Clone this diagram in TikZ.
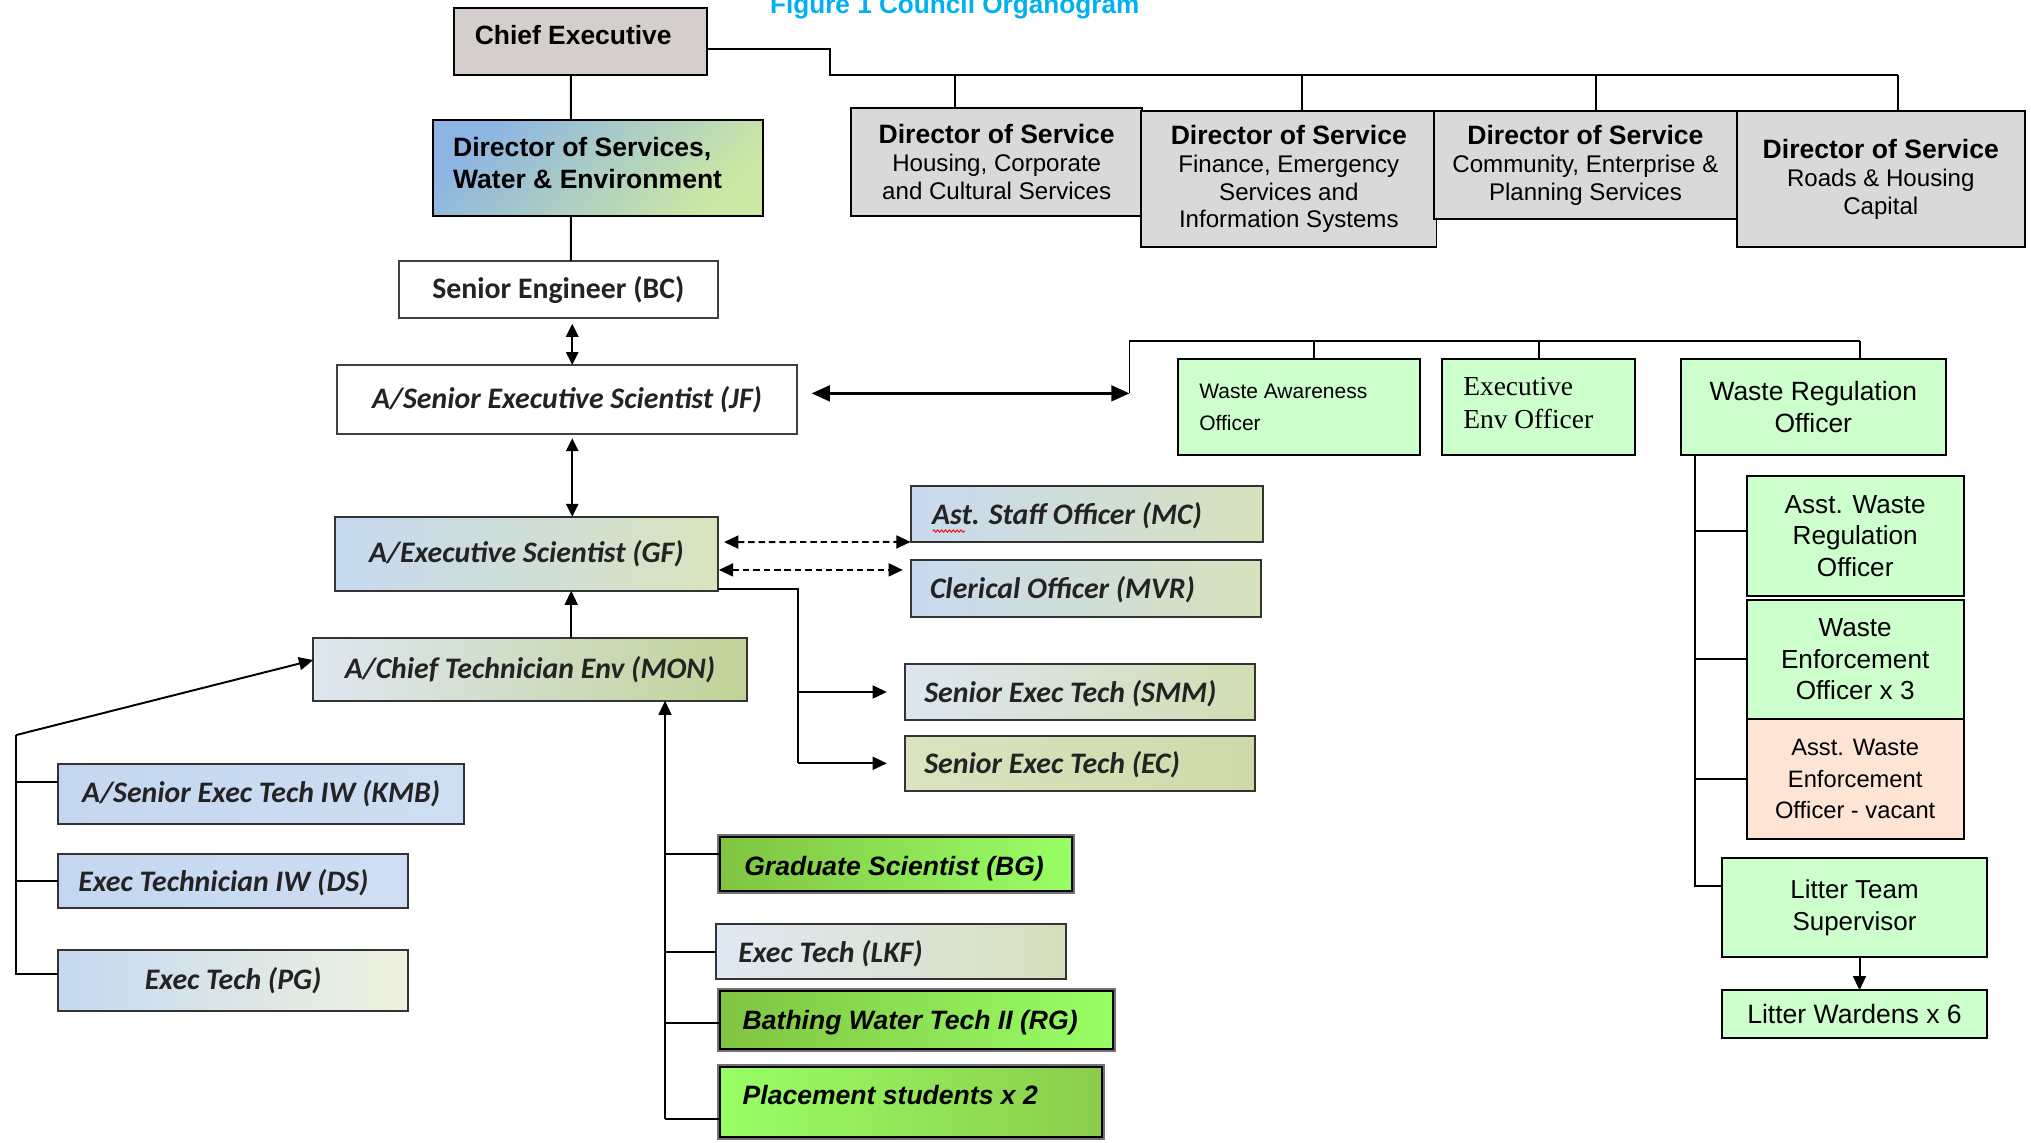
\documentclass[tikz,border=0pt]{standalone}
\usepackage{fontspec}
\setmainfont{Liberation Sans}
\newfontfamily\calfont{Carlito}
\newfontfamily\tmsfont{Liberation Serif}
\usetikzlibrary{arrows.meta,decorations.pathmorphing}
\definecolor{titleblue}{RGB}{0,176,240}
\definecolor{chiefgray}{RGB}{212,207,205}
\definecolor{dirgray}{RGB}{217,217,217}
\definecolor{dweblue}{RGB}{141,180,226}
\definecolor{dwegreen}{RGB}{204,232,164}
\definecolor{mint}{RGB}{204,255,204}
\definecolor{peach}{RGB}{253,228,213}
\definecolor{gfL}{RGB}{198,217,240}
\definecolor{gfR}{RGB}{216,228,190}
\definecolor{monL}{RGB}{222,231,242}
\definecolor{monR}{RGB}{192,211,150}
\definecolor{mcL}{RGB}{200,218,240}
\definecolor{mcR}{RGB}{214,226,188}
\definecolor{smmL}{RGB}{220,230,242}
\definecolor{smmR}{RGB}{210,222,178}
\definecolor{ecL}{RGB}{218,227,192}
\definecolor{ecR}{RGB}{206,218,170}
\definecolor{kmbL}{RGB}{196,215,240}
\definecolor{kmbR}{RGB}{206,222,242}
\definecolor{pgL}{RGB}{198,217,241}
\definecolor{pgR}{RGB}{238,242,222}
\definecolor{lkfL}{RGB}{224,232,245}
\definecolor{lkfR}{RGB}{214,224,188}
\definecolor{gdark}{RGB}{128,196,66}
\definecolor{gbright}{RGB}{153,255,102}
\definecolor{gdarkP}{RGB}{140,205,75}
\definecolor{txt}{RGB}{35,35,35}
\begin{document}
\begin{tikzpicture}[x=1pt,y=-1pt,
  bx/.style={rectangle, draw=black, line width=1.5pt, inner sep=0pt, outer sep=0pt, align=center},
  calbox/.style={bx, draw=black!80, text=txt, font=\calfont\bfseries\itshape\fontsize{23}{27}\selectfont},
  dirbox/.style={bx, fill=dirgray, font=\fontsize{18.6}{21.5}\selectfont},
  mintbox/.style={bx, fill=mint, font=\fontsize{20.2}{24.5}\selectfont},
  greenbox/.style={bx, preaction={draw=black!55, line width=4.5pt}},
  lbl/.style={inner sep=0pt, outer sep=0pt},
  callbl/.style={lbl, anchor=mid west, text=txt, font=\calfont\bfseries\itshape\fontsize{23}{27}\selectfont},
  grlbl/.style={lbl, anchor=mid west, font=\bfseries\itshape\fontsize{20.5}{24}\selectfont},
  lnk/.style={draw=black, line width=1.5pt},
  arr/.style={lnk, -{Triangle[length=11pt,width=10pt]}},
  arrs/.style={lnk, {Triangle[length=10pt,width=9.5pt]}-{Triangle[length=10pt,width=9.5pt]}},
  arrbig/.style={draw=black, line width=2.2pt, {Triangle[length=14pt,width=12pt]}-{Triangle[length=14pt,width=12pt]}},
  dsharr/.style={lnk, dash pattern=on 5pt off 3pt, {Triangle[length=11pt,width=10pt]}-{Triangle[length=11pt,width=10pt]}},
  spell/.style={draw=red, line width=0.7pt, decorate, decoration={snake, amplitude=0.9pt, segment length=3pt}}
]
\useasboundingbox (0,0) rectangle (1568,882);
\clip (0,0) rectangle (1568,882);

% title
\node[lbl, anchor=base west, text=titleblue, font=\bfseries\fontsize{20.2}{24}\selectfont] (title) at (594.5,10.3) {Figure 1 Council Organogram};

% top level
\node[bx, fill=chiefgray, minimum width=195.5pt, minimum height=51.5pt] (chief) at (448.25,32.15) {};
\node[lbl, anchor=base west, font=\bfseries\fontsize{20.4}{24}\selectfont] (chieft) at (366.6,34.7) {Chief Executive};

\node[bx, top color=dweblue, bottom color=dwegreen, shading angle=45, minimum width=255.3pt, minimum height=74.2pt] (dwe) at (461.65,129.7) {};
\node[lbl, anchor=base west, font=\bfseries\fontsize{20.5}{24}\selectfont] (dwet1) at (349.8,121) {Director of Services,};
\node[lbl, anchor=base west, font=\bfseries\fontsize{20.5}{24}\selectfont] (dwet2) at (349.8,145.4) {Water \& Environment};

\node[dirbox, minimum width=225pt, minimum height=83.2pt] (housing) at (769.5,125.2)
  {{\bfseries\fontsize{20.5}{21.5}\selectfont Director of Service}\\Housing, Corporate\\and Cultural Services};
\node[dirbox, minimum width=228pt, minimum height=104.5pt] (finance) at (995,138.25)
  {{\bfseries\fontsize{20.5}{21.5}\selectfont Director of Service}\\Finance, Emergency\\Services and\\Information Systems};
\node[dirbox, minimum width=234pt, minimum height=83pt] (community) at (1224,127.5)
  {{\bfseries\fontsize{20.5}{21.5}\selectfont Director of Service}\\Community, Enterprise \&\\Planning Services};
\node[dirbox, minimum width=222pt, minimum height=104.5pt] (roads) at (1452,138.25)
  {{\bfseries\fontsize{20.5}{21.5}\selectfont Director of Service}\\Roads \& Housing\\Capital};

% left column
\node[calbox, fill=white, draw=black!75, font=\calfont\bfseries\fontsize{23}{27}\selectfont, minimum width=246pt, minimum height=44.2pt] (se) at (431,223.6) {Senior Engineer (BC)};
\node[calbox, fill=white, draw=black!75, minimum width=355.6pt, minimum height=53.5pt] (jf) at (437.8,308.55) {A/Senior Executive Scientist (JF)};
\node[calbox, left color=gfL, right color=gfR, minimum width=295.3pt, minimum height=57pt] (gf) at (406.35,427.5) {A/Executive Scientist (GF)};
\node[calbox, left color=monL, right color=monR, minimum width=334.8pt, minimum height=48.2pt] (mon) at (409.2,516.9) {A/Chief Technician Env (MON)};

\node[calbox, left color=mcL, right color=mcR, minimum width=271.8pt, minimum height=43.4pt] (mc) at (838.9,396.7) {};
\node[callbl] (mct) at (719.6,402.3) {Ast. Staff Officer (MC)};
\coordinate (sp1) at (720,410);
\coordinate (sp2) at (745,410);
\draw[spell] (sp1) -- (sp2);
\node[calbox, left color=mcL, right color=mcR, minimum width=270.3pt, minimum height=43.7pt] (mvr) at (838.15,454.15) {};
\node[callbl] (mvrt) at (718,459.7) {Clerical Officer (MVR)};
\node[calbox, left color=smmL, right color=smmR, minimum width=269.9pt, minimum height=43.3pt] (smm) at (833.65,534.25) {};
\node[callbl] (smmt) at (713.6,539.8) {Senior Exec Tech (SMM)};
\node[calbox, left color=ecL, right color=ecR, minimum width=269.9pt, minimum height=42.2pt] (ec) at (833.65,589.3) {};
\node[callbl] (ect) at (713.6,594.9) {Senior Exec Tech (EC)};

\node[calbox, left color=kmbL, right color=kmbR, minimum width=313.2pt, minimum height=46.3pt] (kmb) at (201.6,612.95) {A/Senior Exec Tech IW (KMB)};
\node[calbox, left color=kmbL, right color=kmbR, minimum width=270pt, minimum height=41.7pt] (ds) at (180,680.45) {};
\node[callbl] (dst) at (60.5,686) {Exec Technician IW (DS)};
\node[calbox, left color=pgL, right color=pgR, minimum width=270pt, minimum height=46.9pt] (pg) at (180,756.85) {Exec Tech (PG)};

\node[greenbox, left color=gdark, right color=gbright, minimum width=271.5pt, minimum height=41.6pt] (grad) at (691.65,666.8) {};
\node[grlbl] (gradt) at (574.6,672.9) {Graduate Scientist (BG)};
\node[calbox, left color=lkfL, right color=lkfR, minimum width=270.2pt, minimum height=42.2pt] (lkf) at (687.9,734.7) {};
\node[callbl] (lkft) at (570,740.3) {Exec Tech (LKF)};
\node[greenbox, left color=gdark, right color=gbright, minimum width=303.5pt, minimum height=45.2pt] (bath) at (707.75,787.4) {};
\node[grlbl] (batht) at (573.4,791.9) {Bathing Water Tech II (RG)};
\node[greenbox, left color=gbright, right color=gdarkP, minimum width=294.5pt, minimum height=53.6pt] (place) at (703.25,850.8) {};
\node[grlbl] (placet) at (573.4,850) {Placement students x 2};

% right column
\node[bx, fill=mint, minimum width=186.4pt, minimum height=74.6pt] (wa) at (1002.8,314.3) {};
\node[lbl, anchor=base west, font=\fontsize{16.2}{20}\selectfont] (wat1) at (925.9,307.5) {Waste Awareness};
\node[lbl, anchor=base west, font=\fontsize{16.2}{20}\selectfont] (wat2) at (925.9,332) {Officer};
\node[bx, fill=mint, minimum width=149.6pt, minimum height=74.6pt] (eeo) at (1187.8,314.3) {};
\node[lbl, anchor=base west, font=\tmsfont\fontsize{21.2}{25}\selectfont] (eeot1) at (1129.7,305.7) {Executive};
\node[lbl, anchor=base west, font=\tmsfont\fontsize{21.2}{25}\selectfont] (eeot2) at (1129.7,330.7) {Env Officer};
\node[mintbox, font=\fontsize{20.4}{25}\selectfont, minimum width=204.3pt, minimum height=74.6pt] (wro) at (1399.95,314.3) {Waste Regulation\\Officer};
\node[mintbox, minimum width=167.5pt, minimum height=92.9pt] (awro) at (1432.25,413.75) {Asst. Waste\\Regulation\\Officer};
\node[mintbox, minimum width=167.5pt, minimum height=92pt] (weo) at (1432.25,509) {Waste\\Enforcement\\Officer x 3};
\node[mintbox, fill=peach, font=\fontsize{18.3}{24.5}\selectfont, minimum width=167.5pt, minimum height=93pt] (aweo) at (1432.25,601.5) {Asst. Waste\\Enforcement\\Officer - vacant};
\node[mintbox, font=\fontsize{20}{24.5}\selectfont, minimum width=204.5pt, minimum height=76.5pt] (lts) at (1431.75,700.75) {Litter Team\\Supervisor};
\node[mintbox, font=\fontsize{20.5}{24}\selectfont, minimum width=204.5pt, minimum height=37pt] (lw) at (1431.75,783) {Litter Wardens x 6};

% connector coordinates
\coordinate (cbend) at (640.8,57.9);
\coordinate (cbus) at (1465,57.9);
\coordinate (wain) at (872,303.7);
\coordinate (bus1) at (872,263.3);
\coordinate (bus2) at (1436,263.3);
\coordinate (gft) at (615.8,455);
\coordinate (mv) at (513.4,864);
\coordinate (lc) at (12.4,567.5);
\coordinate (rtr) at (1308.6,684.3);

% top connectors
\draw[lnk] ([yshift=-5.65pt]chief.east) -| (cbend) -- (cbus);
\draw[lnk] ([xshift=-32.5pt]housing.north) |- (cbus);
\draw[lnk] ([xshift=10pt]finance.north) |- (cbus);
\draw[lnk] ([xshift=8pt]community.north) |- (cbus);
\draw[lnk] ([xshift=13pt]roads.north) -- (cbus);
\draw[lnk] ([xshift=-7.45pt]chief.south) -- ([xshift=-20.85pt]dwe.north);
\draw[lnk] ([xshift=-20.85pt]dwe.south) -- ([xshift=9.8pt]se.north);

% vertical chain
\draw[arrs] ([xshift=10.8pt,yshift=-4.3pt]se.south) -- ([xshift=4pt]jf.north);
\draw[arrs] ([xshift=4pt,yshift=-3pt]jf.south) -- ([xshift=35.45pt]gf.north);
\draw[arr] ([xshift=31.8pt]mon.north) -- ([xshift=34.65pt]gf.south);

% JF to waste team
\draw[arrbig] ([xshift=11pt,yshift=4.85pt]jf.east) -- (wain);
\draw[lnk] (wain) -- (bus1) -- (bus2);
\draw[lnk] ([xshift=11.7pt]wa.north) |- (bus2);
\draw[lnk] ([xshift=0.6pt]eeo.north) |- (bus2);
\draw[lnk] ([xshift=36.05pt]wro.north) -- (bus2);

% dashed links
\draw[dsharr] ([xshift=5pt,yshift=9pt]gf.east) -- (mc.south west);
\draw[dsharr] ([xshift=1pt,yshift=-12.5pt]gf.east) -- ([xshift=-6pt,yshift=14.15pt]mvr.west);

% GF to senior exec techs
\draw[lnk] ([yshift=1pt]gf.south east) -- (gft) -- (gft |- ec.west);
\draw[arr] (gft |- smm.west) -- ([xshift=-14pt]smm.west);
\draw[arr] (gft |- ec.west) -- ([xshift=-14pt]ec.west);

% MON trunk
\draw[arr] (mv) -- (mv |- mon.south);
\draw[lnk] ([yshift=7.2pt]grad.west) -| (mv);
\draw[lnk] (lkf.west) -| (mv);
\draw[lnk] ([yshift=-2.2pt]bath.west) -| (mv);
\draw[lnk] ([yshift=-13.2pt]place.west) -| (mv);

% left trunk
\draw[arr] (lc) -- ([yshift=7.3pt]mon.west);
\draw[lnk] ([yshift=9pt]kmb.west) -| (lc);
\draw[lnk] (ds.west) -| (lc);
\draw[lnk] ([yshift=4.6pt]pg.west) -| (lc);

% right trunk
\draw[lnk] ([xshift=10.8pt]wro.south west) -- (rtr);
\draw[lnk] ([yshift=3.7pt]awro.west) -| (rtr);
\draw[lnk] (weo.west) -| (rtr);
\draw[lnk] (aweo.west) -| (rtr);
\draw[lnk] ([yshift=16.5pt]lts.west) -| (rtr);
\draw[arr] ([xshift=3.85pt]lts.south) -- ([xshift=3.85pt]lw.north);
\end{tikzpicture}
\end{document}
